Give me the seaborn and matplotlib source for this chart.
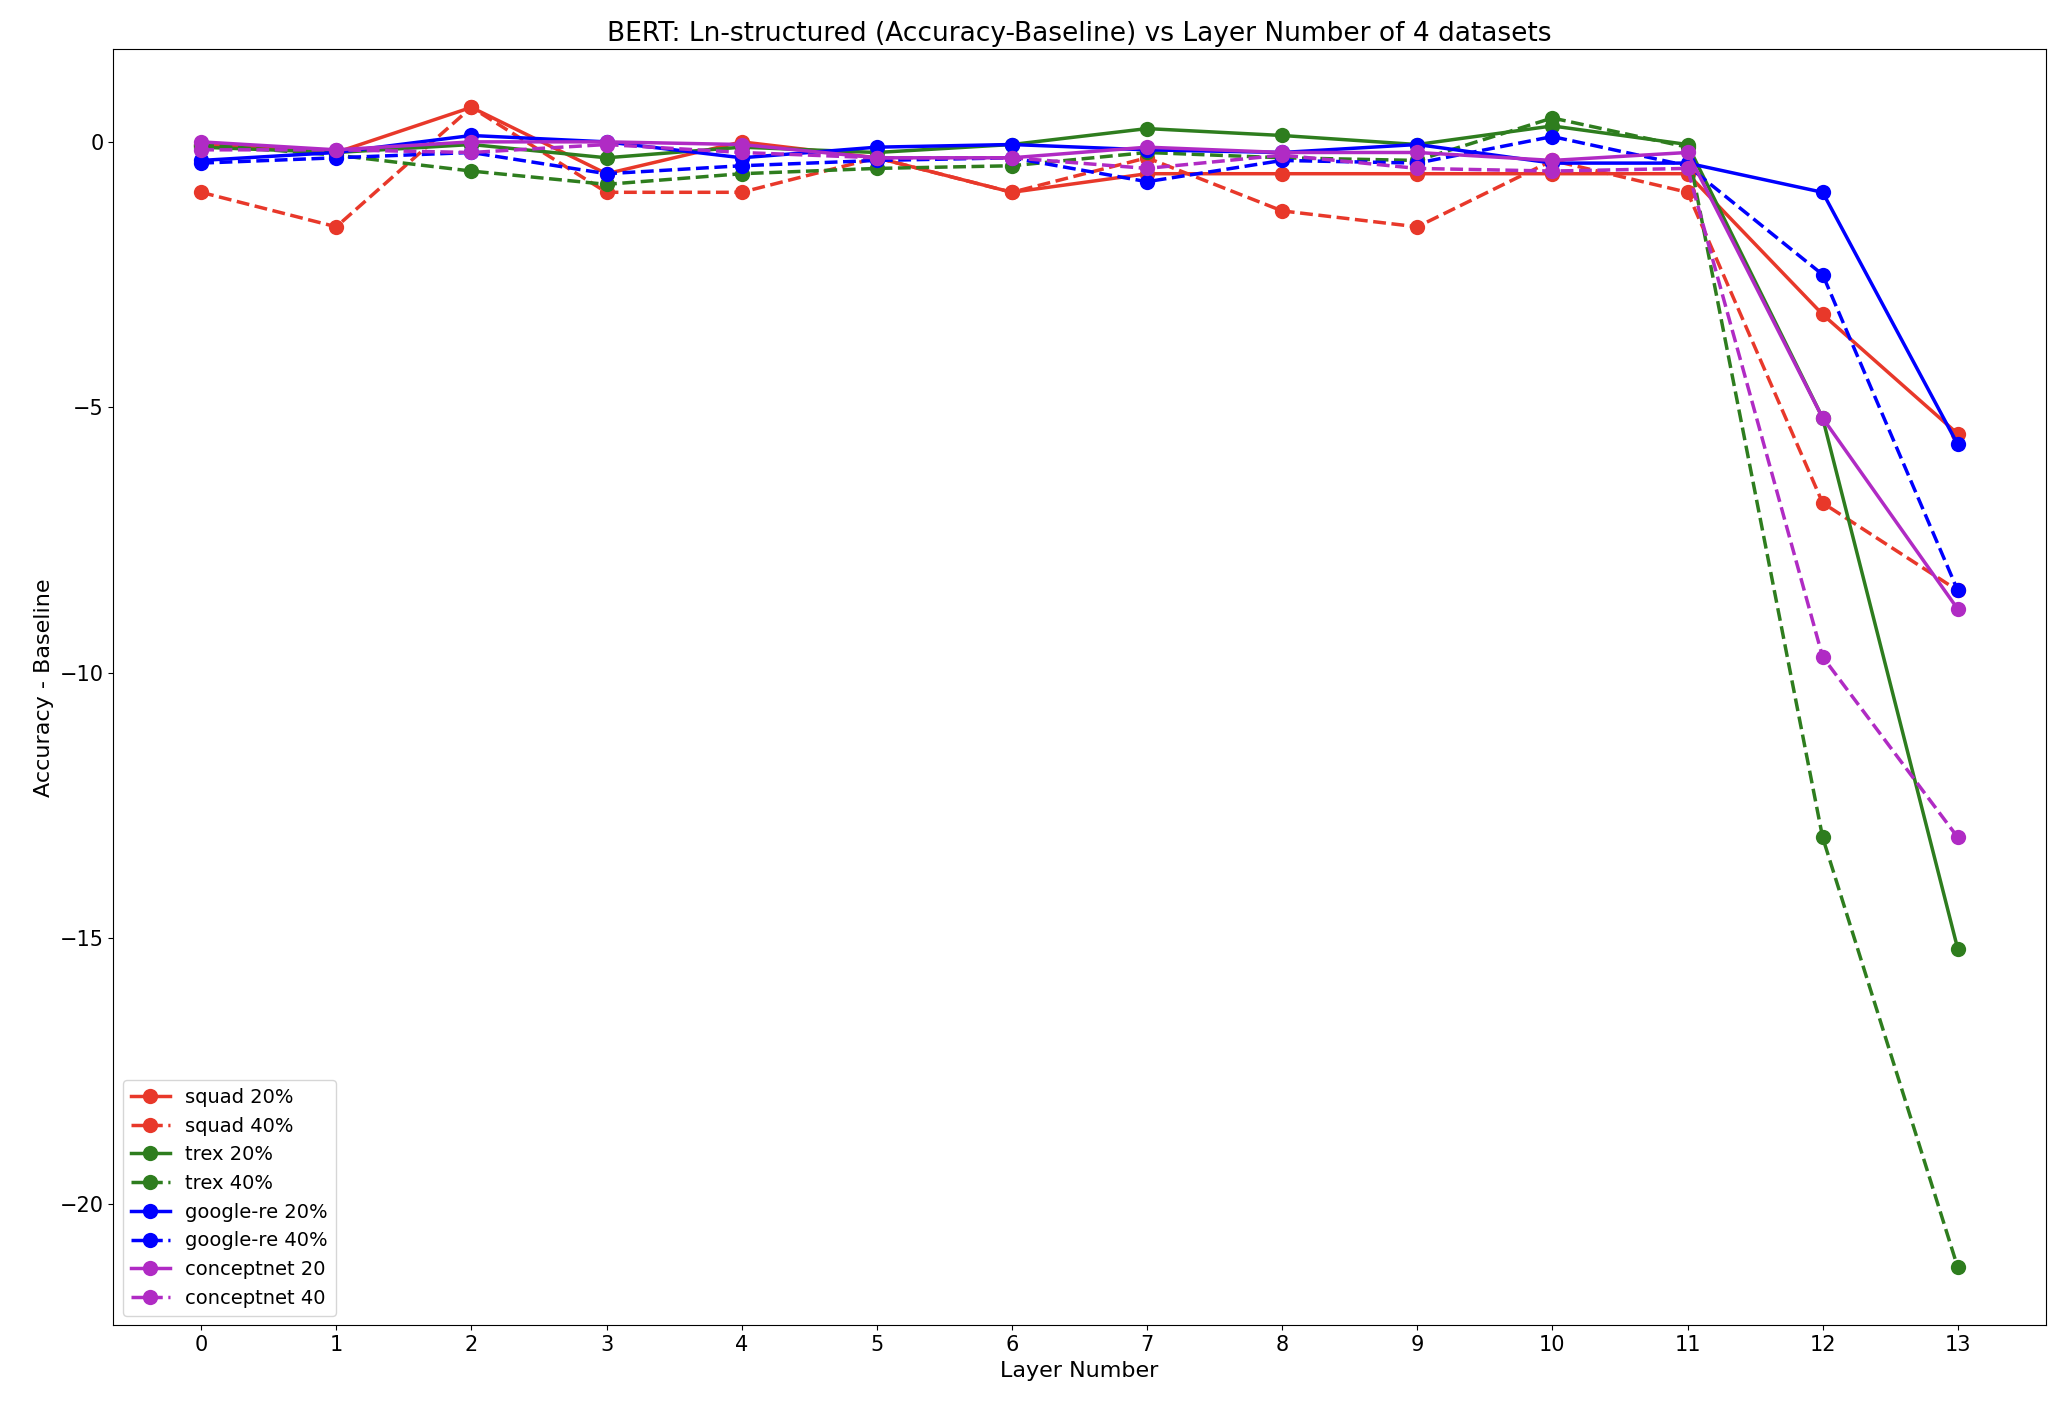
import matplotlib
matplotlib.use('Agg')
import matplotlib.pyplot as plt
import seaborn as sns
import pandas as pd

layers = list(range(14))

squad_20 = [-0.05, -0.2, 0.65, -0.6, 0.0, -0.3, -0.95, -0.6, -0.6, -0.6, -0.6, -0.6, -3.25, -5.5]
squad_40 = [-0.95, -1.6, 0.65, -0.95, -0.95, -0.3, -0.95, -0.3, -1.3, -1.6, -0.35, -0.95, -6.8, -8.45]
trex_20 = [-0.1, -0.2, -0.05, -0.3, -0.1, -0.2, -0.05, 0.25, 0.12, -0.05, 0.3, -0.05, -5.2, -15.2]
trex_40 = [-0.05, -0.25, -0.55, -0.8, -0.6, -0.5, -0.45, -0.2, -0.3, -0.35, 0.45, -0.1, -13.1, -21.2]
google_20 = [-0.35, -0.2, 0.12, 0.0, -0.3, -0.1, -0.05, -0.15, -0.2, -0.05, -0.4, -0.4, -0.95, -5.7]
google_40 = [-0.4, -0.3, -0.2, -0.6, -0.45, -0.35, -0.3, -0.75, -0.35, -0.4, 0.1, -0.45, -2.5, -8.45]
concept_20 = [0.0, -0.15, 0.0, 0.0, -0.05, -0.3, -0.3, -0.1, -0.2, -0.2, -0.35, -0.2, -5.2, -8.8]
concept_40 = [-0.15, -0.15, -0.2, -0.05, -0.2, -0.3, -0.3, -0.5, -0.25, -0.5, -0.55, -0.5, -9.7, -13.1]

series = [
    ('squad 20%', squad_20, '#e8382a', '-'),
    ('squad 40%', squad_40, '#e8382a', '--'),
    ('trex 20%', trex_20, '#2e7d1e', '-'),
    ('trex 40%', trex_40, '#2e7d1e', '--'),
    ('google-re 20%', google_20, '#0000ff', '-'),
    ('google-re 40%', google_40, '#0000ff', '--'),
    ('conceptnet 20', concept_20, '#b02bc4', '-'),
    ('conceptnet 40', concept_40, '#b02bc4', '--'),
]

fig, ax = plt.subplots(figsize = (20.6, 14.1), dpi = 100)

for name, vals, color, ls in series:
    df = pd.DataFrame({'layer': layers, 'val': vals})
    sns.lineplot(data = df, x = 'layer', y = 'val', ax = ax, color = color, linestyle = ls,
                 marker = 'o', markersize = 11, markeredgewidth = 0, linewidth = 2.5, label = name)

ax.set_xticks(layers)
ax.tick_params(labelsize = 15)
ax.set_xlabel('Layer Number', fontsize = 16)
ax.set_ylabel('Accuracy - Baseline', fontsize = 16)
ax.set_title('BERT: Ln-structured (Accuracy-Baseline) vs Layer Number of 4 datasets', fontsize = 19)
ax.legend(loc = 'lower left', fontsize = 14)

plt.subplots_adjust(left = 0.055, right = 0.993, top = 0.965, bottom = 0.06)
plt.savefig('out.png', dpi = 100)
